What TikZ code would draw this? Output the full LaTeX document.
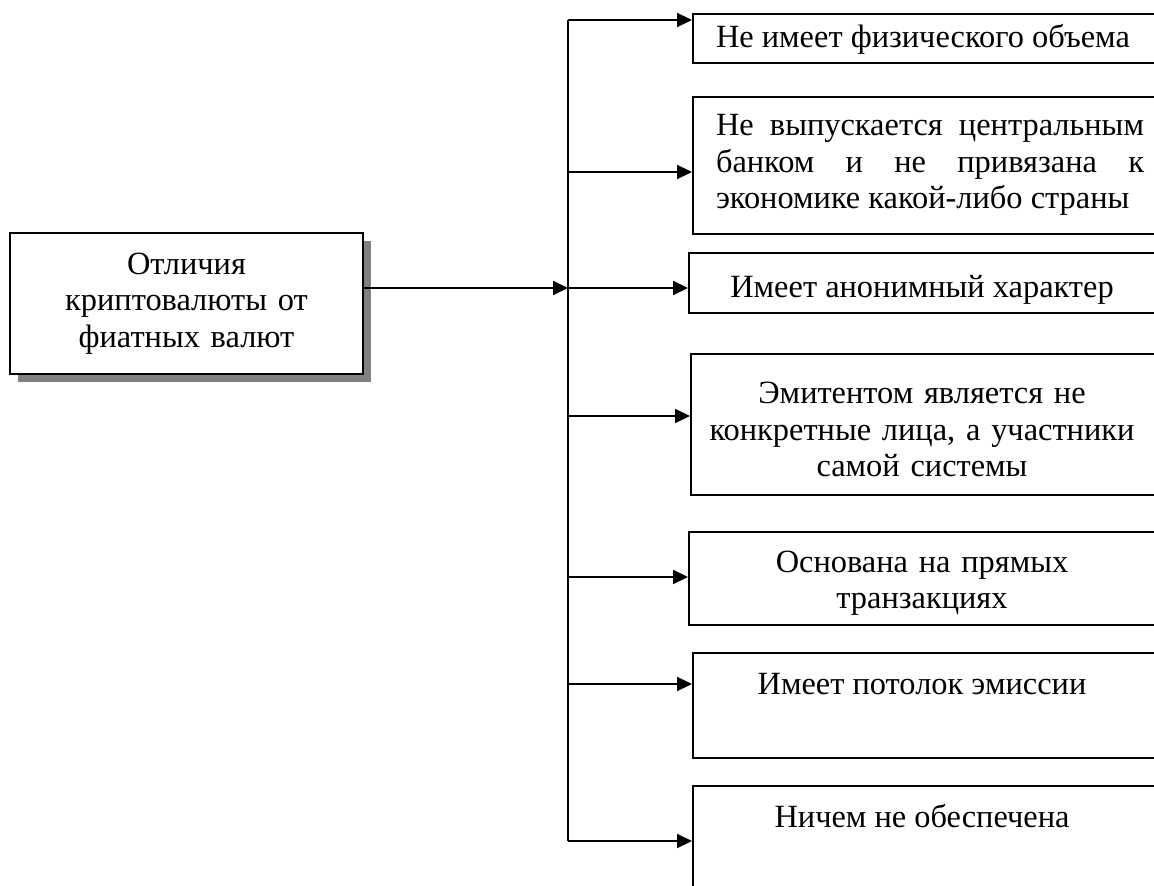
\documentclass[tikz,border=0pt]{standalone}
\usepackage{fontspec}
\setmainfont{Liberation Serif}
\usetikzlibrary{arrows.meta,fit,shadows}

\begin{document}
\begin{tikzpicture}[x=0.5pt,y=-0.5pt,
    line width=1pt,
    every node/.style={font=\fontsize{16.2}{18.25}\selectfont},
    box/.style={draw,inner sep=0pt},
    txt/.style={inner sep=0pt,anchor=base},
    arr/.style={-{Triangle[length=7.5pt,width=7pt]}}]

\useasboundingbox (0,0) rectangle (1154,886);

% main box
\node[draw,fill=white,minimum width=175.5pt,minimum height=70.5pt,
      text width=170pt,align=center,
      drop shadow={shadow xshift=4pt,shadow yshift=-4pt,fill=black!50,opacity=1}]
      (main) at (186.5,303.5) {Отличия\\криптовалюты от\\фиатных валют};

% branch points on the trunk
\coordinate (c1) at (568,20);
\coordinate (c2) at (568,172);
\coordinate (c3) at (568,288);
\coordinate (c4) at (568,416);
\coordinate (c5) at (568,577);
\coordinate (c6) at (568,684);
\coordinate (c7) at (568,841);

% boxes
\node[box,fit={(693,14) (1156,63)}] (b1) {};
\node[box,fit={(693,97) (1156,234)}] (b2) {};
\node[box,fit={(689,253) (1156,313)}] (b3) {};
\node[box,fit={(691,354) (1156,495)}] (b4) {};
\node[box,fit={(689,532) (1156,625)}] (b5) {};
\node[box,fit={(693,653) (1156,758)}] (b6) {};
\node[box,fit={(693,786) (1156,900)}] (b7) {};

% texts
\node[txt,anchor=base west] (t1) at (715,48) {Не имеет физического объема};
\node[txt,anchor=base west,text width=214pt,align=justify] (t2) at (715,136)
    {Не выпускается центральным\linebreak банком и не привязана к\linebreak экономике какой-либо страны};
\node[txt] (t3) at (922,298) {Имеет анонимный характер};
\node[txt,text width=220pt,align=center] (t4) at (922,404)
    {Эмитентом является не\\конкретные лица, а участники\\самой системы};
\node[txt,text width=220pt,align=center] (t5) at (922,572)
    {Основана на прямых\\транзакциях};
\node[txt] (t6) at (922,694) {Имеет потолок эмиссии};
\node[txt] (t7) at (922,827) {Ничем не обеспечена};

% connectors
\draw (c1) -- (c7);
\draw[arr] (main.east |- c3) -- (c3);
\foreach \i in {1,...,7}
    \draw[arr] (c\i) -- (c\i -| b\i.west);

\end{tikzpicture}
\end{document}
